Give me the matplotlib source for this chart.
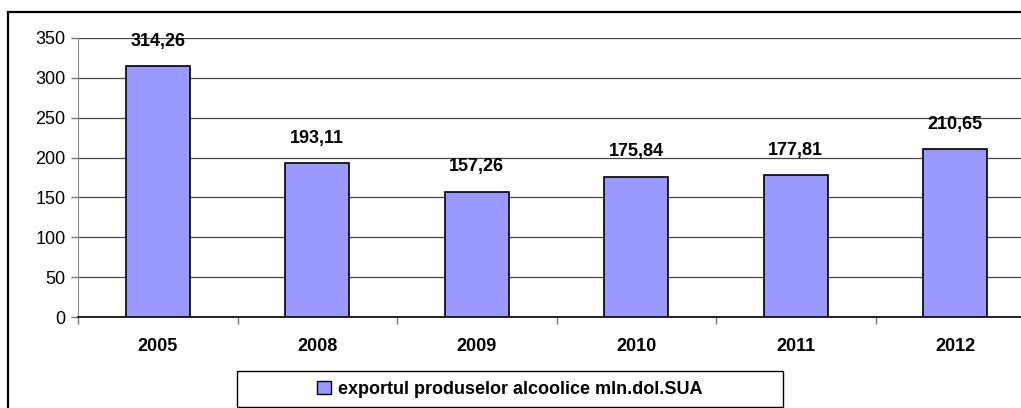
import matplotlib
matplotlib.use("Agg")
import matplotlib.pyplot as plt
from matplotlib.patches import Rectangle

years = ["2005", "2008", "2009", "2010", "2011", "2012"]
export_values = [314.26, 193.11, 157.26, 175.84, 177.81, 210.65]
value_labels = ["314,26", "193,11", "157,26", "175,84", "177,81", "210,65"]
legend_label = "exportul produselor alcoolice mln.dol.SUA"

plt.rcParams['font.family'] = ['Liberation Sans', 'DejaVu Sans']

W, H = 1021, 408
fig = plt.figure(figsize=(W / 100, H / 100), dpi=100)

# outer chart frame (cut off at right/bottom like the source)
fig.patches.append(Rectangle((8 / W, -0.01), 1.2, 1 - 12 / H + 0.01, transform=fig.transFigure,
                             fill=False, edgecolor='black', linewidth=1.6))

# plot area runs past the right edge of the picture
left, right = 78, 1035
bottom, top = 317, 38
ax = fig.add_axes([left / W, 1 - bottom / H, (right - left) / W, (bottom - top) / H])

x = list(range(len(years)))
ax.bar(x, export_values, width=0.4, color='#9999FF', edgecolor='black', linewidth=1.2,
       zorder=3, label=legend_label)
for xi, v, lab in zip(x, export_values, value_labels):
    ax.annotate(lab, (xi, v), xytext=(0, 25), textcoords='offset pixels',
                ha='center', va='center', fontsize=13, fontweight='bold')

ax.set_xlim(-0.5, len(years) - 0.5)
ax.set_ylim(0, 350)
ax.set_yticks(range(0, 351, 50))
ax.yaxis.grid(True, color='#444444', linewidth=0.9, zorder=0)
ax.set_axisbelow(True)

# ticks between categories, labels centred under bars
ax.set_xticks([i + 0.5 for i in range(-1, len(years))], minor=False)
ax.set_xticklabels([])
ax.set_xticks(x, minor=True)
ax.set_xticklabels(years, minor=True, fontsize=13, fontweight='bold')
ax.tick_params(axis='x', which='major', length=5, width=1, color='#777777', direction='out')
ax.tick_params(axis='x', which='minor', length=0, pad=15)
ax.tick_params(axis='y', length=5, width=1, color='#777777', labelsize=13, pad=4)

for s in ['top', 'right']:
    ax.spines[s].set_visible(False)
ax.spines['left'].set_color('#888888')
ax.spines['bottom'].set_color('black')
ax.spines['bottom'].set_linewidth(1.2)

# legend box
fig.patches.append(Rectangle((237 / W, 1 - 407 / H), (783 - 237) / W, 36 / H,
                             transform=fig.transFigure, fill=True, facecolor='white',
                             edgecolor='black', linewidth=1.0, zorder=5))
leg = fig.legend(loc='center', bbox_to_anchor=(510 / W, 1 - 389 / H), frameon=False,
                 prop={'size': 13, 'weight': 'bold'},
                 handlelength=0.75, handleheight=0.75, handletextpad=0.4,
                 borderpad=0.3, borderaxespad=0)
leg.set_zorder(6)
leg.legend_handles[0].set_linewidth(1.0)

fig.savefig("out.png", dpi=100)
